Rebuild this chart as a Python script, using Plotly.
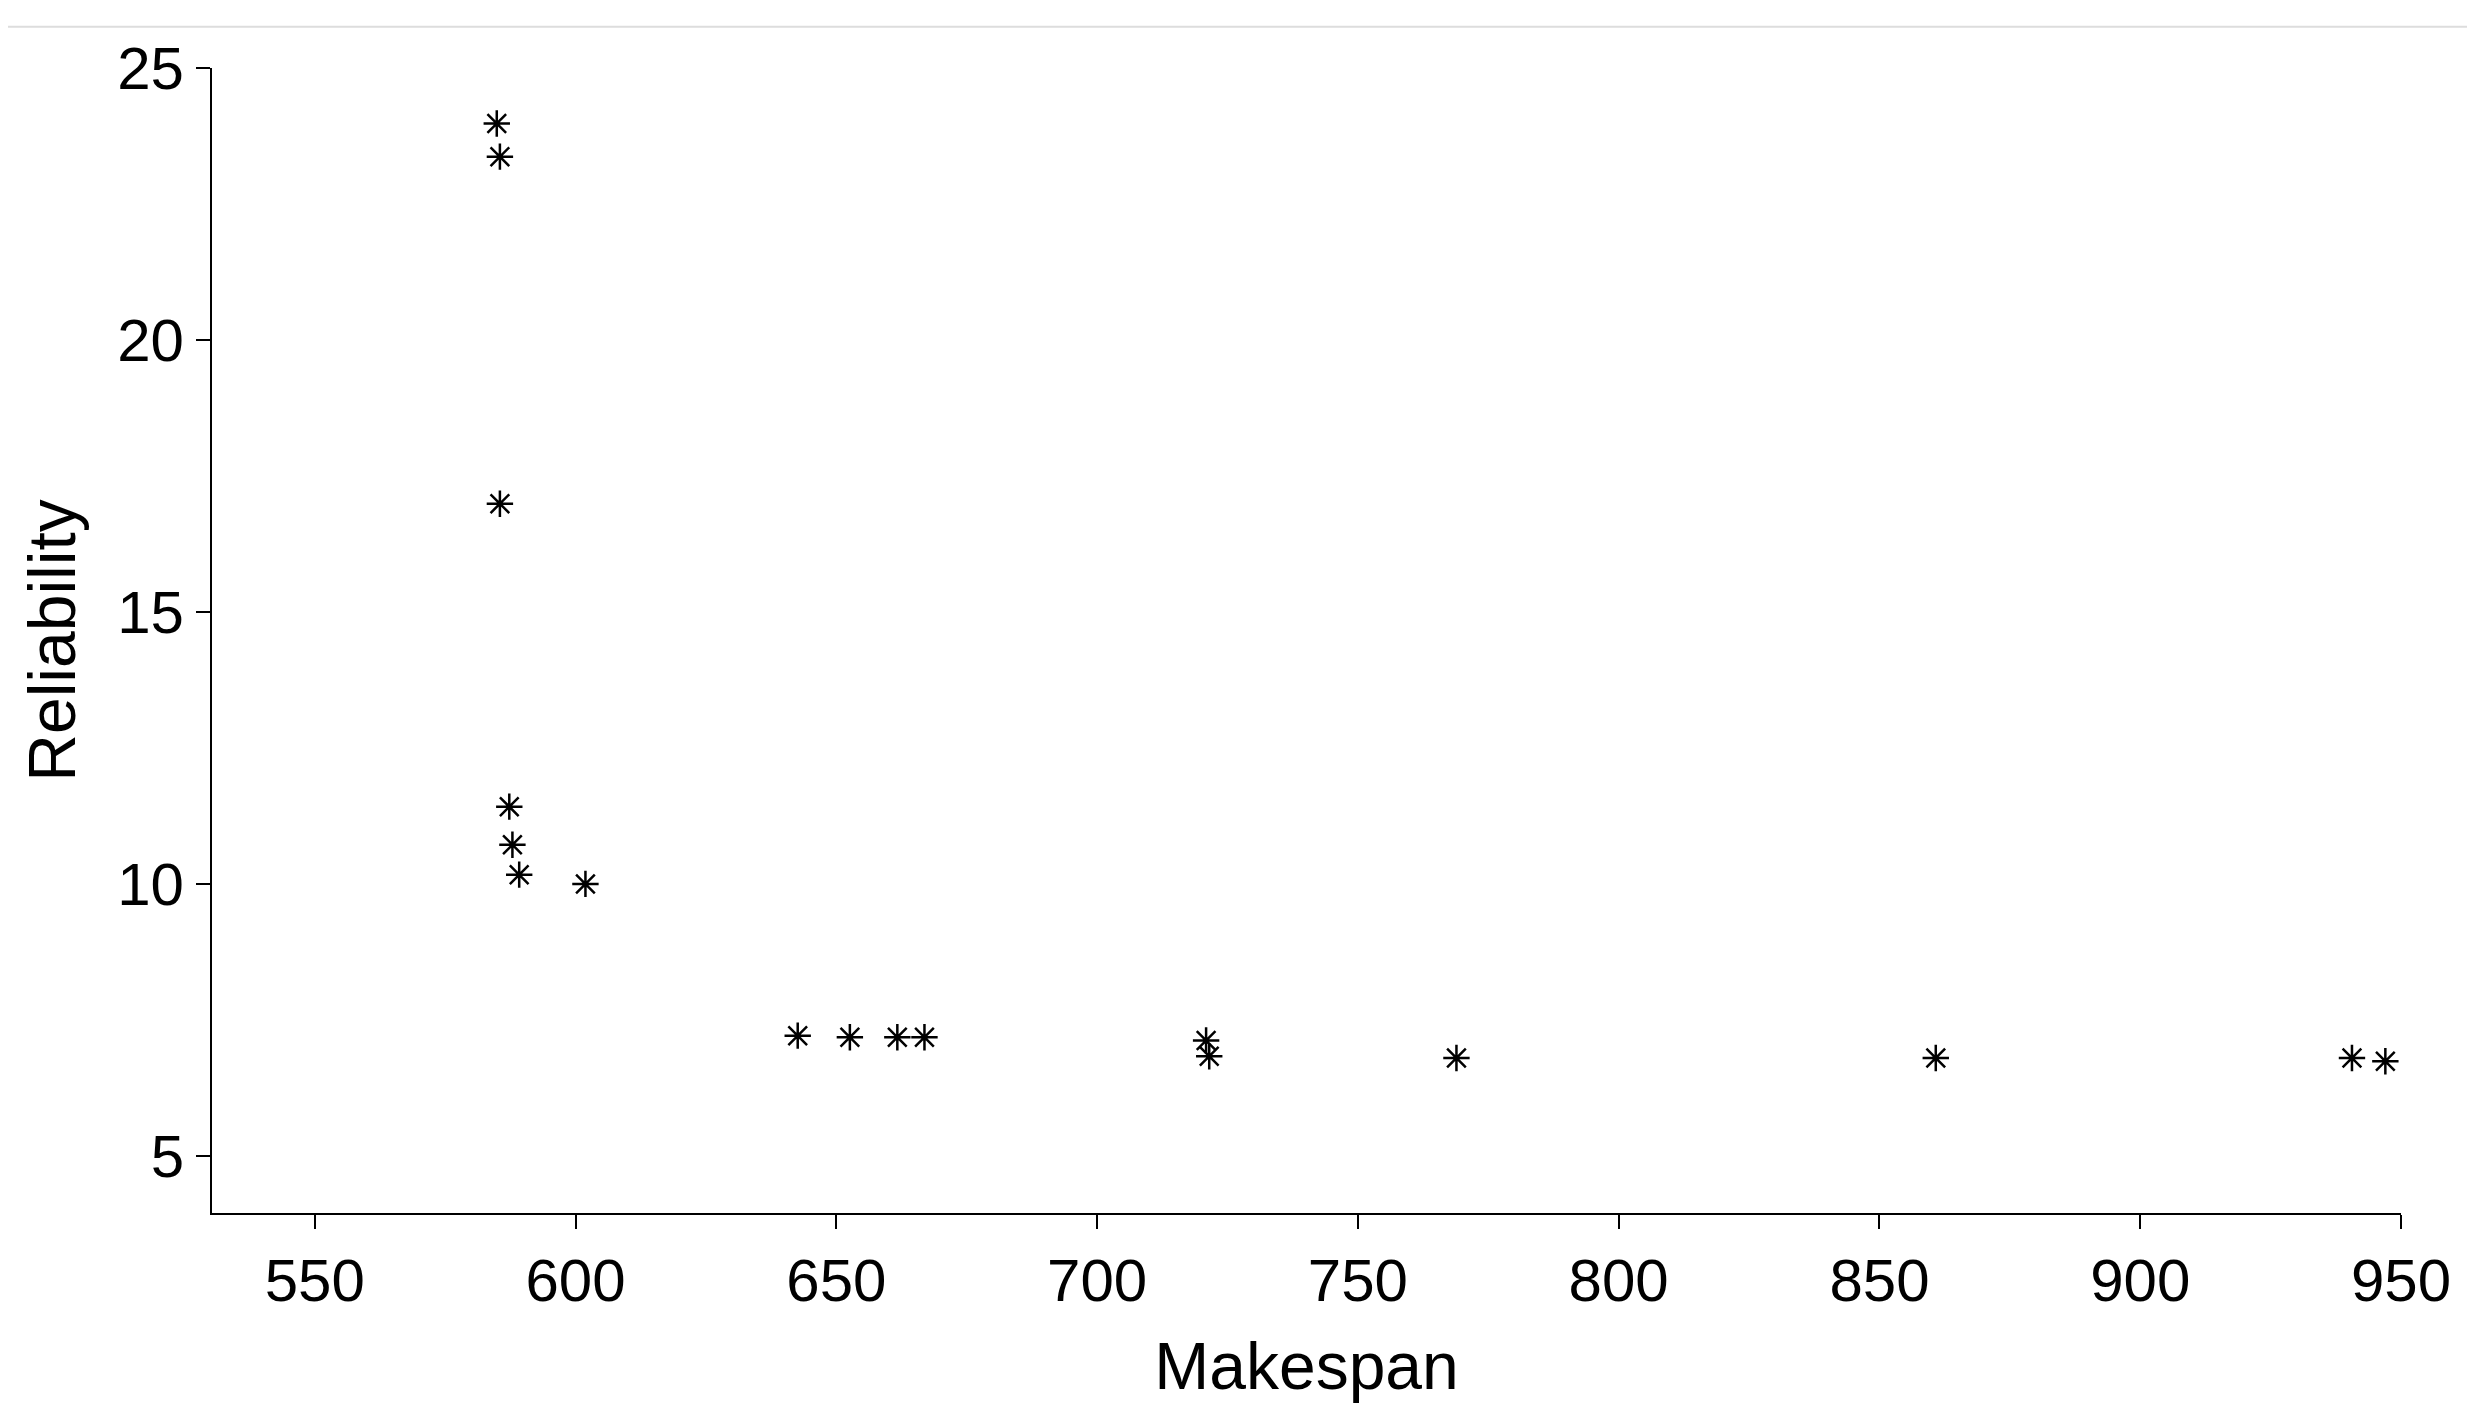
import plotly.graph_objects as go

makespan = [584.9, 585.5, 585.5, 587.3, 587.9, 589.2, 601.9, 642.6, 652.6, 661.7,
            666.9, 720.9, 721.5, 768.9, 860.8, 940.6, 947.0]
reliability = [23.98, 23.37, 16.99, 11.42, 10.72, 10.17, 10.0, 7.21, 7.18, 7.18,
               7.18, 7.12, 6.83, 6.80, 6.80, 6.80, 6.74]

fig = go.Figure(go.Scatter(
    x=makespan, y=reliability, mode="markers",
    marker=dict(symbol="asterisk-open", size=22, color="black",
                line=dict(color="black", width=2.5)),
))

axis = dict(showgrid=False, zeroline=False, showline=True, linecolor="black",
            linewidth=2, ticks="outside", ticklen=14, tickwidth=2,
            tickcolor="black", mirror=False,
            tickfont=dict(family="Arial, Liberation Sans", size=60, color="black"))
fig.update_xaxes(range=[530.3, 950], dtick=50, tick0=550,
                 title=dict(text="Makespan", font=dict(family="Arial, Liberation Sans", size=66, color="black"), standoff=30),
                 **axis)
fig.update_yaxes(range=[3.95, 25], tickvals=[5, 10, 15, 20, 25],
                 title=dict(text="Reliability", font=dict(family="Arial, Liberation Sans", size=66, color="black"), standoff=20),
                 **axis)

fig.add_shape(type="line", xref="paper", yref="paper", x0=-0.1, x1=1.04, y0=1.036, y1=1.036,
              line=dict(color="#dddddd", width=2))

fig.update_layout(width=2475, height=1423, plot_bgcolor="white", paper_bgcolor="white",
                  margin=dict(l=204, r=82, t=60, b=218), showlegend=False)
fig.write_html("out.html")
